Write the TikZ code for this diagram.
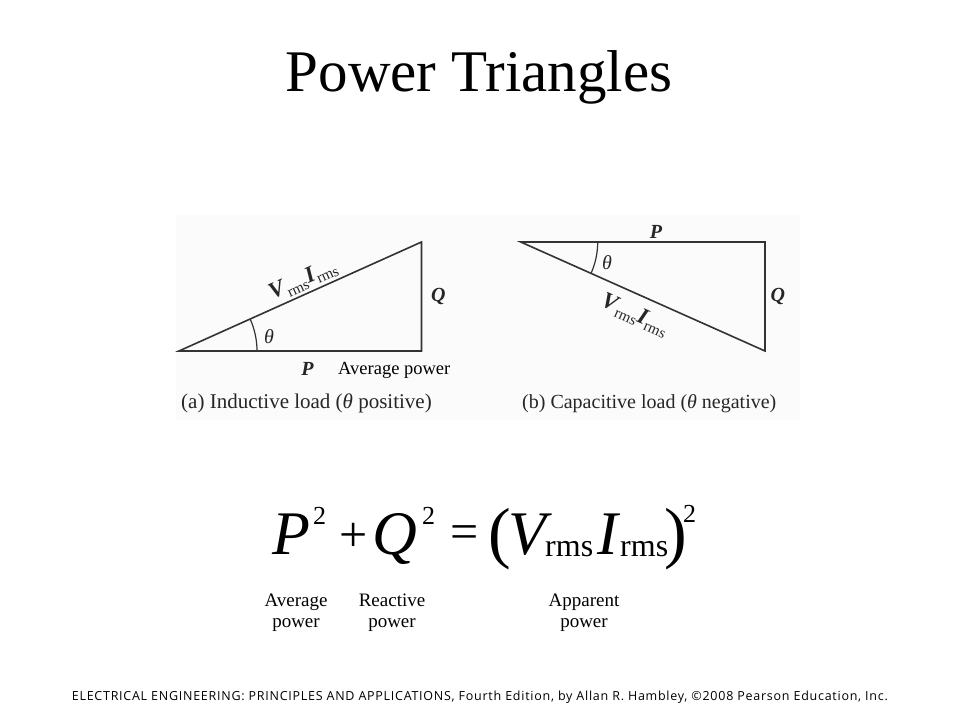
\documentclass[tikz,border=0pt]{standalone}
\usepackage{fontspec}
\setmainfont{Liberation Serif}
\newfontfamily\footfont[LetterSpace = 5.9]{Open Sans}
\usetikzlibrary{positioning}

\newcommand{\rmssub}{\raisebox{-0.45ex}{\fontsize{15}{15}\selectfont rms}}
\newcommand{\trivi}{\textbf{\textit{V}}\rmssub\textbf{\textit{I}}\rmssub}

\tikzset{
	powerpicture/.style = {
		x = 1pt,
		y = 1pt,
		side/.style = {
			draw = black!80,
			line width = 1.6pt,
			line join = miter
		},
		anglearc/.style = {
			draw = black!80,
			line width = 1.2pt
		}
	},
	headline/.style = {
		font = \fontsize{59}{60}\selectfont,
		anchor = base
	},
	trilabel/.style = {
		font = \fontsize{20}{20}\selectfont,
		text = black!85
	},
	vilabel/.style = {
		font = \fontsize{23}{23}\selectfont,
		text = black!85
	},
	loadcaption/.style = {
		font = \fontsize{21}{21}\selectfont,
		text = black!85,
		anchor = base west,
		inner sep = 0pt
	},
	eqpart/.style = {
		font = \fontsize{62}{62}\selectfont\itshape,
		anchor = base west,
		inner sep = 0pt
	},
	eqsub/.style = {
		font = \fontsize{32}{32}\selectfont,
		anchor = base west,
		inner sep = 0pt
	},
	eqsup/.style = {
		font = \fontsize{26}{26}\selectfont,
		anchor = base west,
		inner sep = 0pt
	},
	eqsign/.style = {
		font = \fontsize{50}{50}\selectfont,
		inner sep = 0pt
	},
	eqparen/.style = {
		font = \fontsize{68}{68}\selectfont,
		inner sep = 0pt
	},
	eqlabel/.style = {
		font = \fontsize{19}{20.5}\selectfont,
		align = center,
		anchor = base
	},
	footline/.style = {
		font = \footfont\fontsize{12.5}{12.5}\selectfont,
		anchor = base west,
		inner sep = 0pt
	}
}

\begin{document}
\begin{tikzpicture}[powerpicture]
	\useasboundingbox (0,0) rectangle (960,720);

	\node[headline] (title) at (479,628) {Power Triangles};

	\fill[black!1.5] (176,300) rectangle (800,505);

	% (a) inductive load
	\coordinate (A1) at (179,369);
	\coordinate (B1) at (421.5,478);
	\coordinate (C1) at (421.5,369);
	\draw[side] (A1) -- (B1) -- (C1) -- cycle;
	\draw[anglearc] ([shift = {(24.2:78)}]A1) arc[start angle = 24.2, end angle = 0, radius = 78];

	\path (A1) to node[vilabel, sloped, above, pos = 0.535] (VIa) {\trivi} (B1);
	\path (B1) to node[trilabel, right = 6pt] (Qa) {\textbf{\textit{Q}}} (C1);
	\path (A1) to node[trilabel, below = 8pt, pos = 0.53] (Pa) {\textbf{\textit{P}}} (C1);
	\node[trilabel] (tha) at (269,383) {\textit{θ}};
	\node[font = \fontsize{18.5}{18.5}\selectfont, anchor = base west, inner sep = 0pt] (avga) at (338,345) {Average power};
	\node[loadcaption] (capa) at (181,311) {(a) Inductive load (\textit{θ} positive)};

	% (b) capacitive load
	\coordinate (A2) at (520.7,478);
	\coordinate (B2) at (765,478);
	\coordinate (C2) at (765,369);
	\draw[side] (A2) -- (B2) -- (C2) -- cycle;
	\draw[anglearc] ([shift = {(-24.1:77)}]A2) arc[start angle = -24.1, end angle = 0, radius = 77];

	\path (A2) to node[vilabel, sloped, below = 7pt, pos = 0.5] (VIb) {\trivi} (C2);
	\path (B2) to node[trilabel, right = 2pt] (Qb) {\textbf{\textit{Q}}} (C2);
	\path (A2) to node[trilabel, above, pos = 0.554] (Pb) {\textbf{\textit{P}}} (B2);
	\node[trilabel] (thb) at (607,457) {\textit{θ}};
	\node[loadcaption, font = \fontsize{20}{20}\selectfont] (capb) at (522,311) {(b) Capacitive load (\textit{θ} negative)};

	% equation
	\node[eqpart] (P) at (272,165) {P};
	\node[eqsup] (P2) at (313,195) {2};
	\node[eqsign] (plus) at (353.5,183) {+};
	\node[eqpart] (Q) at (372,165) {Q};
	\node[eqsup] (Q2) at (422,195) {2};
	\node[eqsign] (equals) at (465,183) {=};
	\node[eqparen] (lpar) at (500,181) {(};
	\node[eqpart] (V) at (508,165) {V};
	\node[eqsub] (Vrms) at (545,163) {rms};
	\node[eqpart] (I) at (597,165) {I};
	\node[eqsub] (Irms) at (620,163) {rms};
	\node[eqparen] (rpar) at (675.5,181) {)};
	\node[eqsup] (VI2) at (683,197) {2};

	\node[eqlabel] (avg) at (296,93) {Average\\power};
	\node[eqlabel] (react) at (392,93) {Reactive\\power};
	\node[eqlabel] (appar) at (584,93) {Apparent\\power};

	\node[footline] (foot) at (71.7,19.3) {ELECTRICAL ENGINEERING: PRINCIPLES AND APPLICATIONS, Fourth Edition, by Allan R. Hambley, ©2008 Pearson Education, Inc.};
\end{tikzpicture}
\end{document}
